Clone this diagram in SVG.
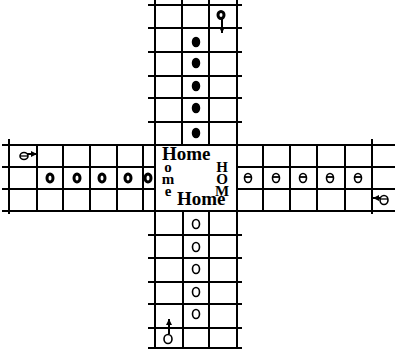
<svg xmlns="http://www.w3.org/2000/svg" width="395" height="349" viewBox="0 0 395 349">
<style>
.g{stroke:#000;stroke-width:2;fill:none;stroke-linecap:square}
.fill{fill:#000;stroke:#000;stroke-width:1.5}
.ring{fill:#fff;stroke:#000;stroke-width:3}
.hollow{fill:#fff;stroke:#000;stroke-width:1.6}
.t{font-family:"Liberation Serif","DejaVu Serif",serif;font-weight:bold;fill:#000}
.v{writing-mode:vertical-rl;text-orientation:upright;letter-spacing:-4px}
</style>
<defs>
<marker id="ah" viewBox="0 0 6 6" refX="5" refY="3" markerWidth="6" markerHeight="6" orient="auto" markerUnits="userSpaceOnUse">
<path d="M0,0 L6,3 L0,6 z" fill="#000"/>
</marker>
</defs>
<rect width="395" height="349" fill="#fff"/>
<g id="board" class="g">
<path d="M155,0 V145 M182,0 V145 M209,0 V145 M237,0 V145"/>
<path d="M149,5 H241 M149,28 H241 M149,52 H241 M149,76 H241 M149,98 H241 M149,122 H241"/>
<path d="M3,145 H395 M3,167 H155 M237,167 H395 M3,189 H155 M237,189 H395 M3,211 H395"/>
<path d="M9,140 V213 M37,145 V211 M63,145 V211 M90,145 V211 M117,145 V211 M143,145 V211 M155,140 V211"/>
<path d="M237,140 V211 M263,145 V211 M290,145 V211 M317,145 V211 M345,145 V211 M372,140 V213"/>
<path d="M155,211 V349 M183,211 V349 M209,211 V349 M237,211 V349"/>
<path d="M149,235 H241 M149,258 H241 M149,282 H241 M149,304 H241 M149,328 H241 M149,348 H241"/>
</g>
<g id="pieces-top">
<ellipse class="fill" cx="196" cy="42" rx="3.5" ry="4.5"/>
<ellipse class="fill" cx="196" cy="63" rx="3.5" ry="4.5"/>
<ellipse class="fill" cx="196" cy="86" rx="3.5" ry="4.5"/>
<ellipse class="fill" cx="196" cy="108" rx="3.5" ry="4.5"/>
<ellipse class="fill" cx="196" cy="133" rx="3.5" ry="4.5"/>
<ellipse class="ring" cx="221" cy="15" rx="3" ry="3.5"/>
<path class="g" d="M222,19 V32" stroke-width="1.5" marker-end="url(#ah)"/>
</g>
<g id="pieces-left">
<ellipse class="ring" cx="50" cy="178" rx="3" ry="4"/>
<ellipse class="ring" cx="77" cy="178" rx="3" ry="4"/>
<ellipse class="ring" cx="102" cy="178" rx="3" ry="4"/>
<ellipse class="ring" cx="128" cy="178" rx="3" ry="4"/>
<ellipse class="ring" cx="148" cy="178" rx="3" ry="4"/>
<ellipse class="hollow" cx="24" cy="156" rx="4" ry="3.5"/>
<path d="M20,156 H28" stroke="#000" stroke-width="1.3"/>
<path class="g" d="M28,154 H36" stroke-width="1.5" marker-end="url(#ah)"/>
</g>
<g id="pieces-right">
<ellipse class="hollow" cx="248" cy="178" rx="3.5" ry="4.5"/>
<path d="M244.5,177 H251.5" stroke="#000" stroke-width="1.8"/>
<ellipse class="hollow" cx="276" cy="178" rx="3.5" ry="4.5"/>
<path d="M272.5,177 H279.5" stroke="#000" stroke-width="1.8"/>
<ellipse class="hollow" cx="303" cy="178" rx="3.5" ry="4.5"/>
<path d="M299.5,177 H306.5" stroke="#000" stroke-width="1.8"/>
<ellipse class="hollow" cx="330" cy="178" rx="3.5" ry="4.5"/>
<path d="M326.5,177 H333.5" stroke="#000" stroke-width="1.8"/>
<ellipse class="hollow" cx="358" cy="178" rx="3.5" ry="4.5"/>
<path d="M354.5,177 H361.5" stroke="#000" stroke-width="1.8"/>
<ellipse class="hollow" cx="384" cy="200" rx="4" ry="4.5"/>
<path d="M380,199 H388" stroke="#000" stroke-width="1.3"/>
<path class="g" d="M379,198 H374" stroke-width="1.5" marker-end="url(#ah)"/>
</g>
<g id="pieces-bottom">
<ellipse class="hollow" cx="196" cy="224" rx="3.5" ry="4.5"/>
<ellipse class="hollow" cx="196" cy="247" rx="3.5" ry="4.5"/>
<ellipse class="hollow" cx="196" cy="269" rx="3.5" ry="4.5"/>
<ellipse class="hollow" cx="196" cy="292" rx="3.5" ry="4.5"/>
<ellipse class="hollow" cx="196" cy="314" rx="3.5" ry="4.5"/>
<ellipse class="hollow" cx="168" cy="339" rx="4" ry="4.5"/>
<path class="g" d="M169,333 V320" stroke-width="1.5" marker-end="url(#ah)"/>
</g>
<g id="home">
<rect x="156" y="146" width="80" height="64" fill="#fff"/>
<path class="g" d="M155,145 H237 V211 H155 Z"/>
<text class="t" x="162" y="160" font-size="19">Home</text>
<text class="t" x="177" y="205" font-size="19">Home</text>
<text class="t v" x="168" y="159" font-size="15">ome</text>
<text class="t v" x="222" y="159" font-size="15">HOM</text>
</g>
</svg>
